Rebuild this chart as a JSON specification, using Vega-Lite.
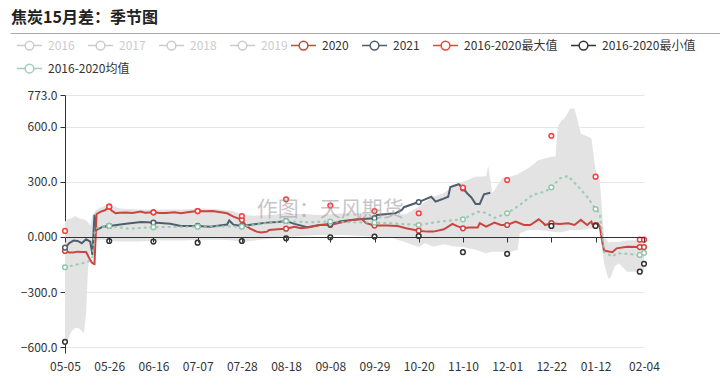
{
  "$schema": "https://vega.github.io/schema/vega-lite/v6.json",
  "width": 579,
  "height": 258,
  "autosize": {"type": "none"},
  "padding": {"left": 65, "top": 95, "right": 76, "bottom": 29},
  "background": "white",
  "config": {
    "font": "Noto Sans CJK SC",
    "view": {"stroke": null},
    "axis": {"labelFont": "Noto Sans CJK SC", "labelFontSize": 12, "labelColor": "#333"},
    "legend": {"labelFont": "Noto Sans CJK SC", "labelFontSize": 12, "labelColor": "#333"}
  },
  "title": {"text": "焦炭15月差：季节图", "anchor": "start", "frame": "group", "fontSize": 16, "fontWeight": "bold", "color": "#222", "font": "Noto Sans CJK SC", "dx": -54, "offset": 6},
  "resolve": {"scale": {"x": "independent"}},
  "layer": [
    {
      "data": {"values": []},
      "mark": "rule",
      "encoding": {
        "x": {"field": "u", "type": "quantitative", "scale": {"domain": [0, 1], "range": [-55, 655]},
          "axis": {"orient": "top", "offset": 62, "domain": true, "domainColor": "#aaa", "domainWidth": 1, "ticks": false, "labels": false, "grid": false, "title": null}}
      }
    },
    {
      "resolve": {"scale": {"color": "independent"}},
      "layer": [
        {
          "data": {"values": [
            {"date": "2020-05-05", "lo": -588, "hi": 84},
            {"date": "2020-05-06", "lo": -571, "hi": 95},
            {"date": "2020-05-08", "lo": -515, "hi": 102},
            {"date": "2020-05-10", "lo": -495, "hi": 114},
            {"date": "2020-05-12", "lo": -500, "hi": 100},
            {"date": "2020-05-14", "lo": -524, "hi": 95},
            {"date": "2020-05-15", "lo": -414, "hi": 90},
            {"date": "2020-05-16", "lo": -160, "hi": 80},
            {"date": "2020-05-17", "lo": -60, "hi": 60},
            {"date": "2020-05-18", "lo": -30, "hi": 120},
            {"date": "2020-05-20", "lo": -20, "hi": 150},
            {"date": "2020-05-22", "lo": -15, "hi": 160},
            {"date": "2020-05-26", "lo": -20, "hi": 178},
            {"date": "2020-05-31", "lo": -25, "hi": 155},
            {"date": "2020-06-09", "lo": -25, "hi": 150},
            {"date": "2020-06-19", "lo": -20, "hi": 148},
            {"date": "2020-06-29", "lo": -20, "hi": 150},
            {"date": "2020-07-09", "lo": -15, "hi": 155},
            {"date": "2020-07-18", "lo": -15, "hi": 150},
            {"date": "2020-07-24", "lo": -20, "hi": 140},
            {"date": "2020-07-29", "lo": -28, "hi": 120},
            {"date": "2020-08-03", "lo": -20, "hi": 115},
            {"date": "2020-08-10", "lo": -10, "hi": 120},
            {"date": "2020-08-18", "lo": 0, "hi": 128},
            {"date": "2020-08-25", "lo": 5, "hi": 125},
            {"date": "2020-09-03", "lo": 10, "hi": 120},
            {"date": "2020-09-13", "lo": 10, "hi": 128},
            {"date": "2020-09-23", "lo": 5, "hi": 130},
            {"date": "2020-09-29", "lo": 0, "hi": 120},
            {"date": "2020-10-07", "lo": -5, "hi": 118},
            {"date": "2020-10-14", "lo": -30, "hi": 125},
            {"date": "2020-10-20", "lo": -55, "hi": 165},
            {"date": "2020-10-23", "lo": -34, "hi": 190},
            {"date": "2020-10-27", "lo": -53, "hi": 219},
            {"date": "2020-11-01", "lo": -40, "hi": 240},
            {"date": "2020-11-05", "lo": -50, "hi": 274},
            {"date": "2020-11-10", "lo": -55, "hi": 300},
            {"date": "2020-11-16", "lo": -70, "hi": 328},
            {"date": "2020-11-21", "lo": -89, "hi": 330},
            {"date": "2020-11-22", "lo": -85, "hi": 386},
            {"date": "2020-11-24", "lo": -80, "hi": 238},
            {"date": "2020-11-26", "lo": -80, "hi": 274},
            {"date": "2020-11-29", "lo": -80, "hi": 325},
            {"date": "2020-12-03", "lo": -80, "hi": 330},
            {"date": "2020-12-06", "lo": -70, "hi": 340},
            {"date": "2020-12-07", "lo": 20, "hi": 350},
            {"date": "2020-12-11", "lo": 38, "hi": 374},
            {"date": "2020-12-16", "lo": 38, "hi": 419},
            {"date": "2020-12-22", "lo": 30, "hi": 437},
            {"date": "2020-12-24", "lo": 25, "hi": 440},
            {"date": "2020-12-25", "lo": 25, "hi": 600},
            {"date": "2020-12-27", "lo": 25, "hi": 637},
            {"date": "2020-12-28", "lo": 30, "hi": 642},
            {"date": "2020-12-31", "lo": 38, "hi": 700},
            {"date": "2021-01-02", "lo": 38, "hi": 700},
            {"date": "2021-01-03", "lo": 38, "hi": 655},
            {"date": "2021-01-05", "lo": 38, "hi": 564},
            {"date": "2021-01-10", "lo": 45, "hi": 537},
            {"date": "2021-01-12", "lo": 49, "hi": 364},
            {"date": "2021-01-14", "lo": 49, "hi": 310},
            {"date": "2021-01-16", "lo": -143, "hi": 2},
            {"date": "2021-01-18", "lo": -225, "hi": -30},
            {"date": "2021-01-19", "lo": -225, "hi": -26},
            {"date": "2021-01-21", "lo": -162, "hi": -26},
            {"date": "2021-01-23", "lo": -143, "hi": -26},
            {"date": "2021-01-27", "lo": -189, "hi": -20},
            {"date": "2021-02-04", "lo": -189, "hi": -16}
          ], "format": {"parse": {"date": "date"}}},
          "mark": {"type": "area", "color": "#e3e3e3", "opacity": 1},
          "encoding": {
            "x": {"field": "date", "type": "temporal", "title": null,
              "scale": {"type": "utc", "domain": [{"year": 2020, "month": 5, "date": 5, "utc": true}, {"year": 2021, "month": 2, "date": 4, "utc": true}]},
              "axis": {"orient": "bottom", "domain": false, "ticks": false, "grid": false, "labelPadding": 8, "labelFlush": false, "labelOverlap": false,
                "labelExpr": "utcFormat(datum.value, '%m-%d')",
                "values": [
                  {"year": 2020, "month": 5, "date": 5, "utc": true},
                  {"year": 2020, "month": 5, "date": 26, "utc": true},
                  {"year": 2020, "month": 6, "date": 16, "utc": true},
                  {"year": 2020, "month": 7, "date": 7, "utc": true},
                  {"year": 2020, "month": 7, "date": 28, "utc": true},
                  {"year": 2020, "month": 8, "date": 18, "utc": true},
                  {"year": 2020, "month": 9, "date": 8, "utc": true},
                  {"year": 2020, "month": 9, "date": 29, "utc": true},
                  {"year": 2020, "month": 10, "date": 20, "utc": true},
                  {"year": 2020, "month": 11, "date": 10, "utc": true},
                  {"year": 2020, "month": 12, "date": 1, "utc": true},
                  {"year": 2020, "month": 12, "date": 22, "utc": true},
                  {"year": 2021, "month": 1, "date": 12, "utc": true},
                  {"year": 2021, "month": 2, "date": 4, "utc": true}
                ]}},
            "y": {"field": "lo", "type": "quantitative", "title": null,
              "scale": {"domain": [-632, 773], "nice": false, "zero": false},
              "axis": {"values": [-600, -300, 0, 300, 600, 773], "labelExpr": "datum.value == 0 ? '0.000' : format(datum.value, '.1f')",
                "grid": true, "gridColor": "#e6e6e6", "domain": true, "domainColor": "#333", "ticks": true, "tickColor": "#333", "tickSize": 5,
                "labelPadding": 3, "labelFlush": false, "labelOverlap": false}},
            "y2": {"field": "hi"}
          }
        },
        {
          "data": {"values": []},
          "mark": "line",
          "encoding": {
            "x": {"field": "date", "type": "temporal", "title": null, "scale": {"type": "utc"}},
            "y": {"field": "v", "type": "quantitative", "title": null},
            "color": {"field": "s", "type": "nominal",
              "scale": {"domain": ["2016", "2017", "2018", "2019"], "range": ["#ccc", "#ccc", "#ccc", "#ccc"]},
              "legend": {"orient": "none", "legendX": -49, "legendY": -63, "direction": "horizontal", "title": null, "padding": 0,
                "symbolType": "M-1,0H-0.35M0.35,0H1M0.35,0A0.35,0.35,0,1,1,-0.35,0A0.35,0.35,0,1,1,0.35,0",
                "symbolSize": 625, "symbolStrokeWidth": 1.5, "symbolFillColor": "#fff", "labelColor": "#ccc", "labelOffset": 5, "columnPadding": 10}}
          }
        },
        {
          "data": {"values": [
            {"date": "2020-05-05", "s": "2020", "v": -76},
            {"date": "2020-05-07", "s": "2020", "v": -85},
            {"date": "2020-05-09", "s": "2020", "v": -85},
            {"date": "2020-05-11", "s": "2020", "v": -80},
            {"date": "2020-05-13", "s": "2020", "v": -82},
            {"date": "2020-05-15", "s": "2020", "v": -82},
            {"date": "2020-05-17", "s": "2020", "v": -125},
            {"date": "2020-05-18", "s": "2020", "v": -143},
            {"date": "2020-05-19", "s": "2020", "v": -148},
            {"date": "2020-05-20", "s": "2020", "v": 125},
            {"date": "2020-05-22", "s": "2020", "v": 138},
            {"date": "2020-05-24", "s": "2020", "v": 145},
            {"date": "2020-05-26", "s": "2020", "v": 165},
            {"date": "2020-05-27", "s": "2020", "v": 145},
            {"date": "2020-05-29", "s": "2020", "v": 129},
            {"date": "2020-05-31", "s": "2020", "v": 132},
            {"date": "2020-06-03", "s": "2020", "v": 133},
            {"date": "2020-06-06", "s": "2020", "v": 130},
            {"date": "2020-06-10", "s": "2020", "v": 138},
            {"date": "2020-06-12", "s": "2020", "v": 132},
            {"date": "2020-06-16", "s": "2020", "v": 134},
            {"date": "2020-06-19", "s": "2020", "v": 130},
            {"date": "2020-06-22", "s": "2020", "v": 130},
            {"date": "2020-06-26", "s": "2020", "v": 135},
            {"date": "2020-06-29", "s": "2020", "v": 129},
            {"date": "2020-07-03", "s": "2020", "v": 136},
            {"date": "2020-07-07", "s": "2020", "v": 141},
            {"date": "2020-07-11", "s": "2020", "v": 140},
            {"date": "2020-07-14", "s": "2020", "v": 141},
            {"date": "2020-07-18", "s": "2020", "v": 135},
            {"date": "2020-07-21", "s": "2020", "v": 129},
            {"date": "2020-07-24", "s": "2020", "v": 111},
            {"date": "2020-07-28", "s": "2020", "v": 93},
            {"date": "2020-07-30", "s": "2020", "v": 60},
            {"date": "2020-08-01", "s": "2020", "v": 45},
            {"date": "2020-08-04", "s": "2020", "v": 29},
            {"date": "2020-08-06", "s": "2020", "v": 24},
            {"date": "2020-08-09", "s": "2020", "v": 29},
            {"date": "2020-08-10", "s": "2020", "v": 38},
            {"date": "2020-08-14", "s": "2020", "v": 42},
            {"date": "2020-08-18", "s": "2020", "v": 45},
            {"date": "2020-08-22", "s": "2020", "v": 56},
            {"date": "2020-08-25", "s": "2020", "v": 47},
            {"date": "2020-08-29", "s": "2020", "v": 53},
            {"date": "2020-09-03", "s": "2020", "v": 65},
            {"date": "2020-09-08", "s": "2020", "v": 65},
            {"date": "2020-09-13", "s": "2020", "v": 78},
            {"date": "2020-09-19", "s": "2020", "v": 93},
            {"date": "2020-09-23", "s": "2020", "v": 98},
            {"date": "2020-09-25", "s": "2020", "v": 75},
            {"date": "2020-09-29", "s": "2020", "v": 62},
            {"date": "2020-10-05", "s": "2020", "v": 62},
            {"date": "2020-10-10", "s": "2020", "v": 60},
            {"date": "2020-10-14", "s": "2020", "v": 47},
            {"date": "2020-10-20", "s": "2020", "v": 34},
            {"date": "2020-10-24", "s": "2020", "v": 29},
            {"date": "2020-10-27", "s": "2020", "v": 29},
            {"date": "2020-11-01", "s": "2020", "v": 42},
            {"date": "2020-11-05", "s": "2020", "v": 71},
            {"date": "2020-11-07", "s": "2020", "v": 60},
            {"date": "2020-11-10", "s": "2020", "v": 47},
            {"date": "2020-11-13", "s": "2020", "v": 51},
            {"date": "2020-11-17", "s": "2020", "v": 52},
            {"date": "2020-11-18", "s": "2020", "v": 75},
            {"date": "2020-11-21", "s": "2020", "v": 56},
            {"date": "2020-11-25", "s": "2020", "v": 78},
            {"date": "2020-11-28", "s": "2020", "v": 65},
            {"date": "2020-12-01", "s": "2020", "v": 65},
            {"date": "2020-12-05", "s": "2020", "v": 84},
            {"date": "2020-12-09", "s": "2020", "v": 65},
            {"date": "2020-12-12", "s": "2020", "v": 65},
            {"date": "2020-12-16", "s": "2020", "v": 96},
            {"date": "2020-12-18", "s": "2020", "v": 78},
            {"date": "2020-12-19", "s": "2020", "v": 65},
            {"date": "2020-12-22", "s": "2020", "v": 75},
            {"date": "2020-12-26", "s": "2020", "v": 71},
            {"date": "2020-12-30", "s": "2020", "v": 75},
            {"date": "2021-01-02", "s": "2020", "v": 65},
            {"date": "2021-01-05", "s": "2020", "v": 93},
            {"date": "2021-01-08", "s": "2020", "v": 65},
            {"date": "2021-01-10", "s": "2020", "v": 84},
            {"date": "2021-01-11", "s": "2020", "v": 56},
            {"date": "2021-01-12", "s": "2020", "v": 65},
            {"date": "2021-01-13", "s": "2020", "v": 75},
            {"date": "2021-01-14", "s": "2020", "v": 56},
            {"date": "2021-01-15", "s": "2020", "v": -16},
            {"date": "2021-01-16", "s": "2020", "v": -74},
            {"date": "2021-01-20", "s": "2020", "v": -83},
            {"date": "2021-01-22", "s": "2020", "v": -62},
            {"date": "2021-01-27", "s": "2020", "v": -53},
            {"date": "2021-02-02", "s": "2020", "v": -55},
            {"date": "2021-02-04", "s": "2020", "v": -55},
            {"date": "2020-05-05", "s": "2021", "v": -58},
            {"date": "2020-05-07", "s": "2021", "v": -34},
            {"date": "2020-05-09", "s": "2021", "v": -20},
            {"date": "2020-05-11", "s": "2021", "v": -22},
            {"date": "2020-05-13", "s": "2021", "v": -34},
            {"date": "2020-05-15", "s": "2021", "v": -13},
            {"date": "2020-05-17", "s": "2021", "v": -25},
            {"date": "2020-05-18", "s": "2021", "v": -98},
            {"date": "2020-05-19", "s": "2021", "v": 120},
            {"date": "2020-05-20", "s": "2021", "v": 38},
            {"date": "2020-05-23", "s": "2021", "v": 56},
            {"date": "2020-05-26", "s": "2021", "v": 60},
            {"date": "2020-06-03", "s": "2021", "v": 72},
            {"date": "2020-06-10", "s": "2021", "v": 82},
            {"date": "2020-06-16", "s": "2021", "v": 78},
            {"date": "2020-06-24", "s": "2021", "v": 72},
            {"date": "2020-06-29", "s": "2021", "v": 60},
            {"date": "2020-07-07", "s": "2021", "v": 60},
            {"date": "2020-07-13", "s": "2021", "v": 56},
            {"date": "2020-07-21", "s": "2021", "v": 68},
            {"date": "2020-07-22", "s": "2021", "v": 90},
            {"date": "2020-07-24", "s": "2021", "v": 67},
            {"date": "2020-07-28", "s": "2021", "v": 60},
            {"date": "2020-08-03", "s": "2021", "v": 69},
            {"date": "2020-08-09", "s": "2021", "v": 78},
            {"date": "2020-08-14", "s": "2021", "v": 82},
            {"date": "2020-08-18", "s": "2021", "v": 87},
            {"date": "2020-08-22", "s": "2021", "v": 71},
            {"date": "2020-08-28", "s": "2021", "v": 53},
            {"date": "2020-09-03", "s": "2021", "v": 65},
            {"date": "2020-09-08", "s": "2021", "v": 70},
            {"date": "2020-09-13", "s": "2021", "v": 85},
            {"date": "2020-09-19", "s": "2021", "v": 93},
            {"date": "2020-09-23", "s": "2021", "v": 98},
            {"date": "2020-09-29", "s": "2021", "v": 102},
            {"date": "2020-09-30", "s": "2021", "v": 120},
            {"date": "2020-10-09", "s": "2021", "v": 129},
            {"date": "2020-10-12", "s": "2021", "v": 147},
            {"date": "2020-10-13", "s": "2021", "v": 162},
            {"date": "2020-10-20", "s": "2021", "v": 190},
            {"date": "2020-10-23", "s": "2021", "v": 205},
            {"date": "2020-10-26", "s": "2021", "v": 219},
            {"date": "2020-10-28", "s": "2021", "v": 192},
            {"date": "2020-10-31", "s": "2021", "v": 205},
            {"date": "2020-11-03", "s": "2021", "v": 219},
            {"date": "2020-11-04", "s": "2021", "v": 272},
            {"date": "2020-11-08", "s": "2021", "v": 287},
            {"date": "2020-11-10", "s": "2021", "v": 265},
            {"date": "2020-11-12", "s": "2021", "v": 238},
            {"date": "2020-11-14", "s": "2021", "v": 215},
            {"date": "2020-11-16", "s": "2021", "v": 180},
            {"date": "2020-11-18", "s": "2021", "v": 180},
            {"date": "2020-11-20", "s": "2021", "v": 232},
            {"date": "2020-11-23", "s": "2021", "v": 241}
          ], "format": {"parse": {"date": "date"}}},
          "layer": [
            {
              "transform": [{"filter": "datum.s == '2021'"}],
              "mark": {"type": "line", "strokeWidth": 2},
              "encoding": {
                "x": {"field": "date", "type": "temporal", "title": null, "scale": {"type": "utc"}},
                "y": {"field": "v", "type": "quantitative", "title": null},
                "color": {"field": "s", "type": "nominal",
                  "scale": {"domain": ["2020", "2021", "2016-2020最大值", "2016-2020最小值"], "range": ["#c9453f", "#4e5e6d", "#ff3b3b", "#333333"]},
                  "legend": {"orient": "none", "legendX": 225, "legendY": -63, "direction": "horizontal", "title": null, "padding": 0,
                    "symbolType": "M-1,0H-0.35M0.35,0H1M0.35,0A0.35,0.35,0,1,1,-0.35,0A0.35,0.35,0,1,1,0.35,0",
                    "symbolSize": 625, "symbolStrokeWidth": 1.5, "symbolFillColor": "#fff", "labelColor": "#333", "labelOffset": 5, "columnPadding": 10}}
              }
            },
            {
              "transform": [{"filter": "datum.s == '2020'"}],
              "mark": {"type": "line", "strokeWidth": 2},
              "encoding": {
                "x": {"field": "date", "type": "temporal", "title": null, "scale": {"type": "utc"}},
                "y": {"field": "v", "type": "quantitative", "title": null},
                "color": {"field": "s", "type": "nominal"}
              }
            },
            {
              "transform": [{"filter": "indexof(['05-05','05-26','06-16','07-07','07-28','08-18','09-08','09-29','10-20','11-10','12-01','12-22','01-12','02-02','02-04'], utcFormat(datum.date, '%m-%d')) >= 0"}],
              "mark": {"type": "point", "shape": "circle", "filled": false, "fill": "#fff", "size": 22, "strokeWidth": 1.5, "opacity": 1},
              "encoding": {
                "x": {"field": "date", "type": "temporal", "title": null, "scale": {"type": "utc"}},
                "y": {"field": "v", "type": "quantitative", "title": null},
                "color": {"field": "s", "type": "nominal"}
              }
            },
            {
              "data": {"values": [
                {"date": "2020-05-05", "s": "2016-2020最大值", "v": 33},
                {"date": "2020-05-26", "s": "2016-2020最大值", "v": 165},
                {"date": "2020-06-16", "s": "2016-2020最大值", "v": 134},
                {"date": "2020-07-07", "s": "2016-2020最大值", "v": 141},
                {"date": "2020-07-28", "s": "2016-2020最大值", "v": 114},
                {"date": "2020-08-18", "s": "2016-2020最大值", "v": 205},
                {"date": "2020-09-08", "s": "2016-2020最大值", "v": 171},
                {"date": "2020-09-29", "s": "2016-2020最大值", "v": 141},
                {"date": "2020-10-20", "s": "2016-2020最大值", "v": 129},
                {"date": "2020-11-10", "s": "2016-2020最大值", "v": 269},
                {"date": "2020-12-01", "s": "2016-2020最大值", "v": 310},
                {"date": "2020-12-22", "s": "2016-2020最大值", "v": 551},
                {"date": "2021-01-12", "s": "2016-2020最大值", "v": 328},
                {"date": "2021-02-02", "s": "2016-2020最大值", "v": -15},
                {"date": "2021-02-04", "s": "2016-2020最大值", "v": -15},
                {"date": "2020-05-05", "s": "2016-2020最小值", "v": -571},
                {"date": "2020-05-26", "s": "2016-2020最小值", "v": -22},
                {"date": "2020-06-16", "s": "2016-2020最小值", "v": -25},
                {"date": "2020-07-07", "s": "2016-2020最小值", "v": -31},
                {"date": "2020-07-28", "s": "2016-2020最小值", "v": -22},
                {"date": "2020-08-18", "s": "2016-2020最小值", "v": -7},
                {"date": "2020-09-08", "s": "2016-2020最小值", "v": -2},
                {"date": "2020-09-29", "s": "2016-2020最小值", "v": 2},
                {"date": "2020-10-20", "s": "2016-2020最小值", "v": 5},
                {"date": "2020-11-10", "s": "2016-2020最小值", "v": -83},
                {"date": "2020-12-01", "s": "2016-2020最小值", "v": -92},
                {"date": "2020-12-22", "s": "2016-2020最小值", "v": 60},
                {"date": "2021-01-12", "s": "2016-2020最小值", "v": 60},
                {"date": "2021-02-02", "s": "2016-2020最小值", "v": -189},
                {"date": "2021-02-04", "s": "2016-2020最小值", "v": -146}
              ], "format": {"parse": {"date": "date"}}},
              "mark": {"type": "point", "shape": "circle", "filled": false, "fill": "#fff", "size": 22, "strokeWidth": 1.5, "opacity": 1},
              "encoding": {
                "x": {"field": "date", "type": "temporal", "title": null, "scale": {"type": "utc"}},
                "y": {"field": "v", "type": "quantitative", "title": null},
                "color": {"field": "s", "type": "nominal"}
              }
            }
          ]
        },
        {
          "data": {"values": [
            {"date": "2020-05-05", "s": "2016-2020均值", "v": -165},
            {"date": "2020-05-09", "s": "2016-2020均值", "v": -155},
            {"date": "2020-05-13", "s": "2016-2020均值", "v": -144},
            {"date": "2020-05-16", "s": "2016-2020均值", "v": -135},
            {"date": "2020-05-18", "s": "2016-2020均值", "v": -110},
            {"date": "2020-05-19", "s": "2016-2020均值", "v": 20},
            {"date": "2020-05-20", "s": "2016-2020均值", "v": 47},
            {"date": "2020-05-26", "s": "2016-2020均值", "v": 60},
            {"date": "2020-06-04", "s": "2016-2020均值", "v": 45},
            {"date": "2020-06-16", "s": "2016-2020均值", "v": 53},
            {"date": "2020-06-29", "s": "2016-2020均值", "v": 55},
            {"date": "2020-07-07", "s": "2016-2020均值", "v": 56},
            {"date": "2020-07-19", "s": "2016-2020均值", "v": 58},
            {"date": "2020-07-28", "s": "2016-2020均值", "v": 56},
            {"date": "2020-08-08", "s": "2016-2020均值", "v": 75},
            {"date": "2020-08-18", "s": "2016-2020均值", "v": 87},
            {"date": "2020-08-28", "s": "2016-2020均值", "v": 80},
            {"date": "2020-09-08", "s": "2016-2020均值", "v": 84},
            {"date": "2020-09-18", "s": "2016-2020均值", "v": 80},
            {"date": "2020-09-29", "s": "2016-2020均值", "v": 78},
            {"date": "2020-10-10", "s": "2016-2020均值", "v": 72},
            {"date": "2020-10-20", "s": "2016-2020均值", "v": 65},
            {"date": "2020-10-30", "s": "2016-2020均值", "v": 84},
            {"date": "2020-11-10", "s": "2016-2020均值", "v": 96},
            {"date": "2020-11-17", "s": "2016-2020均值", "v": 138},
            {"date": "2020-11-21", "s": "2016-2020均值", "v": 131},
            {"date": "2020-11-25", "s": "2016-2020均值", "v": 104},
            {"date": "2020-12-01", "s": "2016-2020均值", "v": 129},
            {"date": "2020-12-07", "s": "2016-2020均值", "v": 174},
            {"date": "2020-12-13", "s": "2016-2020均值", "v": 229},
            {"date": "2020-12-19", "s": "2016-2020均值", "v": 247},
            {"date": "2020-12-22", "s": "2016-2020均值", "v": 270},
            {"date": "2020-12-26", "s": "2016-2020均值", "v": 319},
            {"date": "2020-12-30", "s": "2016-2020均值", "v": 332},
            {"date": "2021-01-03", "s": "2016-2020均值", "v": 283},
            {"date": "2021-01-08", "s": "2016-2020均值", "v": 219},
            {"date": "2021-01-12", "s": "2016-2020均值", "v": 152},
            {"date": "2021-01-14", "s": "2016-2020均值", "v": 129},
            {"date": "2021-01-16", "s": "2016-2020均值", "v": -80},
            {"date": "2021-01-20", "s": "2016-2020均值", "v": -107},
            {"date": "2021-01-22", "s": "2016-2020均值", "v": -89},
            {"date": "2021-01-27", "s": "2016-2020均值", "v": -92},
            {"date": "2021-02-02", "s": "2016-2020均值", "v": -98},
            {"date": "2021-02-04", "s": "2016-2020均值", "v": -87}
          ], "format": {"parse": {"date": "date"}}},
          "layer": [
            {
              "mark": {"type": "line", "strokeWidth": 2.2, "strokeDash": [1, 5], "strokeCap": "round", "opacity": 0.85},
              "encoding": {
                "x": {"field": "date", "type": "temporal", "title": null, "scale": {"type": "utc"}},
                "y": {"field": "v", "type": "quantitative", "title": null},
                "color": {"field": "s", "type": "nominal",
                  "scale": {"domain": ["2016-2020均值"], "range": ["#91c7ae"]},
                  "legend": {"orient": "none", "legendX": -49, "legendY": -40, "direction": "horizontal", "title": null, "padding": 0,
                    "symbolType": "M-1,0H-0.35M0.35,0H1M0.35,0A0.35,0.35,0,1,1,-0.35,0A0.35,0.35,0,1,1,0.35,0",
                    "symbolSize": 625, "symbolStrokeWidth": 1.5, "symbolFillColor": "#fff", "symbolDash": [], "labelColor": "#333", "labelOffset": 5, "columnPadding": 10}}
              }
            },
            {
              "transform": [{"filter": "indexof(['05-05','05-26','06-16','07-07','07-28','08-18','09-08','09-29','10-20','11-10','12-01','12-22','01-12','02-02','02-04'], utcFormat(datum.date, '%m-%d')) >= 0"}],
              "mark": {"type": "point", "shape": "circle", "filled": false, "fill": "#fff", "size": 22, "strokeWidth": 1.5, "opacity": 1},
              "encoding": {
                "x": {"field": "date", "type": "temporal", "title": null, "scale": {"type": "utc"}},
                "y": {"field": "v", "type": "quantitative", "title": null},
                "color": {"field": "s", "type": "nominal"}
              }
            }
          ]
        },
        {
          "data": {"values": [{}]},
          "mark": {"type": "text", "text": "作图：天风期货", "fontSize": 21, "color": "#999", "opacity": 0.55, "align": "center", "baseline": "middle", "font": "Noto Sans CJK SC"},
          "encoding": {
            "x": {"datum": {"year": 2020, "month": 9, "date": 8, "utc": true}, "type": "temporal", "scale": {"type": "utc"}},
            "y": {"datum": 147, "type": "quantitative"}
          }
        }
      ]
    },
    {
      "data": {"values": []},
      "mark": "rule",
      "encoding": {
        "x": {"field": "date", "type": "temporal",
          "scale": {"type": "utc", "domain": [{"year": 2020, "month": 5, "date": 5, "utc": true}, {"year": 2021, "month": 2, "date": 4, "utc": true}]},
          "axis": {"orient": "bottom", "offset": -116, "labels": false, "ticks": true, "tickSize": 5, "tickColor": "#333", "domain": true, "domainColor": "#333", "grid": false, "title": null, "zindex": 1,
            "values": [
              {"year": 2020, "month": 5, "date": 5, "utc": true},
              {"year": 2020, "month": 5, "date": 26, "utc": true},
              {"year": 2020, "month": 6, "date": 16, "utc": true},
              {"year": 2020, "month": 7, "date": 7, "utc": true},
              {"year": 2020, "month": 7, "date": 28, "utc": true},
              {"year": 2020, "month": 8, "date": 18, "utc": true},
              {"year": 2020, "month": 9, "date": 8, "utc": true},
              {"year": 2020, "month": 9, "date": 29, "utc": true},
              {"year": 2020, "month": 10, "date": 20, "utc": true},
              {"year": 2020, "month": 11, "date": 10, "utc": true},
              {"year": 2020, "month": 12, "date": 1, "utc": true},
              {"year": 2020, "month": 12, "date": 22, "utc": true},
              {"year": 2021, "month": 1, "date": 12, "utc": true},
              {"year": 2021, "month": 2, "date": 4, "utc": true}
            ]}}
      }
    }
  ]
}
